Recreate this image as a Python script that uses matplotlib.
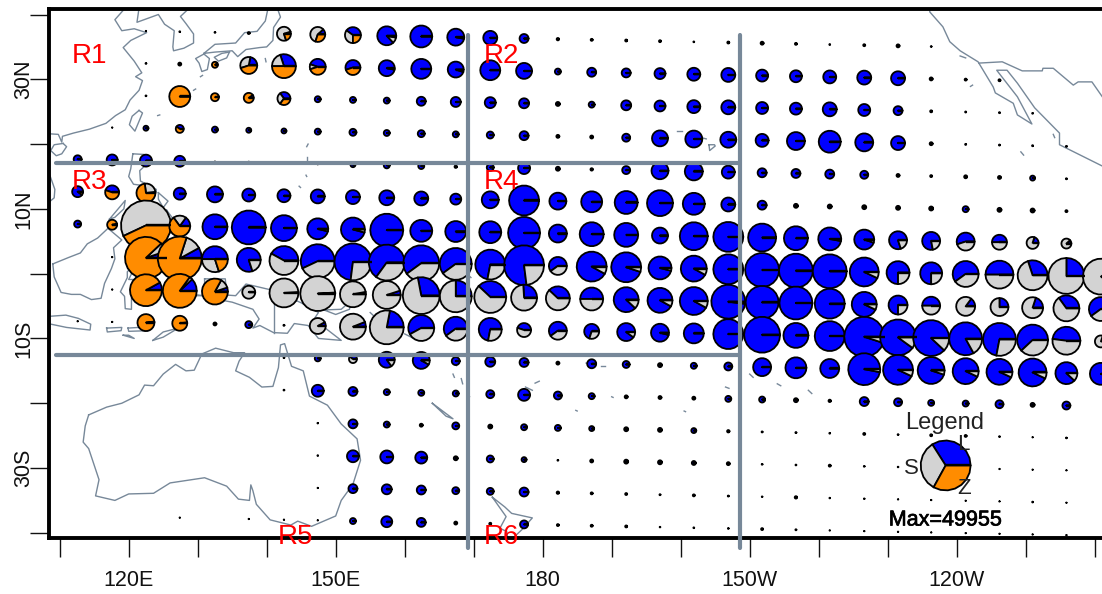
import numpy as np
import matplotlib
matplotlib.use("Agg")
import matplotlib.pyplot as plt
import matplotlib.patheffects as pe

plt.rcParams['font.family'] = ['Liberation Sans', 'DejaVu Sans']

# pie grid
col_lons = [112.6, 117.6, 122.5, 127.4, 132.5, 137.4, 142.5, 147.4, 152.5, 157.4, 162.4,
            167.4, 172.4, 177.3, 182.2, 187.1, 192.1, 197.0, 201.9, 206.9, 211.8, 216.7,
            221.6, 226.6, 231.5, 236.3, 241.3, 246.2, 251.0, 255.9, 260.9]
row_lats = [37.5, 32.5, 27.5, 22.5, 17.5, 12.5, 7.5, 2.5, -2.5, -7.5, -12.5, -17.5, -22.5, -27.5, -32.5, -37.5]
row_tilt = 0.021  # rows sink slowly to the east on the original

# pie radius in pixels, one list per row, from col 0
radii_r0 = [0, 0, .5, .7, .7, 1, 7, 7.5, 8, 9.5, 11, 8.5, 7, 4.5, 1.2, 1, 1, 1, .7, 1, 1.5, 1, .7, 1, 1.5, .7]
radii_r1 = [0, 0, .7, 1.5, 3, 8.5, 12, 8, 7.5, 8, 10, 8, 10, 8, 3, 4.5, 4.5, 5.5, 6.5, 7, 6, 6, 6.5, 7, 7, 1.5, 1, 1]
radii_r2 = [0, 0, .7, 10.5, 4, 5, 6.5, 3, 3, 3, 4.5, 5, 5.5, 5, 2, 3, 5, 5.5, 6.5, 7, 6, 6, 7, 6, 4.5, 1, .8, .8, .7]
radii_r3 = [0, .5, 2.5, 4, 3, 2.5, 2.5, 3, 3.5, 3, 3.5, 3, 3.5, 4.5, 1.5, 1.5, 4, 8, 8.5, 8, 6.5, 9, 11, 9, 7, 1.5, .8, .8, .8, .8]
radii_r4 = [4, 5.5, 6, 5.5, .8, 1, .8, .7, 2.5, 3, 3, 1.2, 3.5, 6, 2, 1.2, 4, 8.5, 9, 6.5, 4.5, 4.5, 4.5, 4, 1.5, 1, 1.5, 1.5, 2.5, .8]
radii_r5 = [5.5, 7, 9.5, 6, 8, 6.5, 6.5, 7, 7, 7.5, 7, 5.5, 8.5, 15, 8.5, 10.5, 11.5, 13, 11, 7, 4.5, 2, 2, 2, 2, 2, 3, 2, 2, 1]
radii_r6 = [3.5, 5, 25, 10.5, 12.5, 17, 13, 10.5, 12, 16.5, 11, 10.5, 11, 16, 9, 12, 12, 8, 14, 15, 14, 12, 11.5, 10, 9, 9, 9, 7.5, 6, 5]
radii_r7 = [0, .5, 21, 22, 13, 12, 14.5, 17, 18.5, 18, 18, 16, 15, 20, 9, 15, 15, 11.5, 13, 15, 17, 17, 17, 14.5, 11.5, 11, 13, 14, 15, 18, 18]
radii_r8 = [0, .5, 16, 17, 13, 6.5, 14.5, 17.5, 13, 14, 18.5, 16, 16, 13, 12, 11.5, 12.5, 12.5, 14, 17, 16.5, 16.5, 15, 12.5, 9.5, 9, 9.5, 9, 10.5, 13, 12]
radii_r9 = [.5, .5, 8.5, 7.5, 1.5, 3.5, .8, 8, 13, 17, 13, 12, 11.5, 7, 9, 7.5, 9, 9, 10, 15, 18, 12.5, 15, 20, 18, 18, 16.5, 16.5, 15.5, 14, 6]
radii_r10 = [0, 0, 0, 0, 0, 0, .7, 3, 4, 8, 8.5, 4, 5, 4.5, 1.5, 4.5, 3.5, 2, 3, 4, 9, 10.5, 9.5, 16, 15, 13.5, 13, 13, 14, 11, 11]
radii_r11 = [0, 0, 0, 0, 0, 0, .7, 6, 4.5, 3, 3, 3, 4, 6, 4, 3, 1.5, 1.5, 1.5, 3, 3, 2, 1.2, 4.5, 4, 3, 3, 4, 2, 4]
radii_r12 = [0, 0, 0, 0, 0, 0, 0, .6, 4.5, 3, 1.5, 3.5, 2, 3, 3, 2.5, 2, 2, 2.5, 1.2, .8, .8, .7, 1, .7, 1, 1, .7, .5, .7]
radii_r13 = [0, 0, 0, 0, 0, 0, 0, .6, 6, 6.5, 6, 2, 3.5, 2.5, .7, 1.5, 2, 2, 2, 1.5, .7, .7, 1, .7, .6, .5, .5, .5, .5, .5]
radii_r14 = [0, 0, 0, 0, 0, 0, 0, .5, 4.5, 5, 4.5, 3.5, 3.5, 4.5, 1.2, 1, 1, .8, 1, .8, .6, 1.2, .6, .6, .5, .5, .5, .5, .7, .5]
radii_r15 = [0, 0, 0, .5, 0, .5, .5, .5, 3, 5.5, 4.5, 1.5, 1, 4, 1, 1, 1, .6, .7, .7, 1, .8, .5, .5, .5, .5, .5, .5, .5, .5]
radii = [radii_r0, radii_r1, radii_r2, radii_r3, radii_r4, radii_r5, radii_r6, radii_r7,
         radii_r8, radii_r9, radii_r10, radii_r11, radii_r12, radii_r13, radii_r14, radii_r15]

# (row, col): L, S, Z shares. Anything not listed is all L
shares = {
    (0, 6): (.05, .75, .2), (0, 7): (.12, .58, .3), (0, 8): (.4, .35, .25), (0, 9): (.87, .1, .03), (0, 11): (.97, 0, .03),
    (1, 4): (.1, 0, .9), (1, 5): (.22, .33, .45), (1, 6): (.3, .2, .5), (1, 7): (.45, .1, .45), (1, 8): (.55, 0, .45),
    (1, 9): (.97, 0, .03), (1, 11): (.95, 0, .05),
    (2, 3): (0, 0, 1), (2, 4): (.03, 0, .97), (2, 5): (.1, 0, .9), (2, 6): (.35, .3, .35), (3, 3): (.4, 0, .6),
    (5, 0): (.9, 0, .1), (5, 1): (.45, 0, .55), (5, 2): (.02, .25, .73),
    (6, 1): (.03, 0, .97), (6, 2): (0, .57, .43), (6, 3): (.15, .2, .65), (6, 7): (.96, .04, 0), (6, 8): (.96, .04, 0),
    (6, 22): (.97, .03, 0), (6, 23): (.95, .05, 0), (6, 24): (.8, .2, 0), (6, 25): (.78, .22, 0), (6, 26): (.55, .45, 0),
    (6, 27): (.5, .5, 0), (6, 28): (.2, .8, 0), (6, 29): (.12, .88, 0),
    (7, 2): (.05, .07, .88), (7, 3): (.08, .12, .8), (7, 4): (.5, .3, .2), (7, 5): (.8, .2, 0), (7, 6): (.42, .58, 0),
    (7, 7): (.57, .43, 0), (7, 8): (.73, .27, 0), (7, 9): (.65, .35, 0), (7, 10): (.6, .4, 0), (7, 11): (.6, .4, 0),
    (7, 12): (.72, .28, 0), (7, 13): (.77, .23, 0), (7, 14): (.6, .4, 0), (7, 15): (.92, .08, 0), (7, 16): (.95, .05, 0),
    (7, 17): (.96, .04, 0), (7, 18): (.92, .08, 0), (7, 23): (.93, .07, 0), (7, 24): (.75, .25, 0), (7, 25): (.75, .25, 0),
    (7, 26): (.6, .4, 0), (7, 27): (.5, .5, 0), (7, 28): (.3, .7, 0), (7, 29): (.25, .75, 0), (7, 30): (.1, .9, 0),
    (8, 2): (.08, 0, .92), (8, 3): (.12, .03, .85), (8, 4): (.05, .12, .83), (8, 5): (0, 1, 0), (8, 6): (.01, .99, 0),
    (8, 7): (.01, .99, 0), (8, 8): (.03, .97, 0), (8, 9): (.05, .95, 0), (8, 10): (.28, .72, 0), (8, 11): (.25, .75, 0),
    (8, 12): (.38, .62, 0), (8, 13): (.26, .74, 0), (8, 14): (.38, .62, 0), (8, 15): (.5, .5, 0), (8, 16): (.88, .12, 0),
    (8, 17): (.92, .08, 0), (8, 18): (.92, .08, 0), (8, 19): (.98, .02, 0), (8, 23): (.93, .07, 0), (8, 24): (.75, .25, 0),
    (8, 25): (.5, .5, 0), (8, 26): (.15, .85, 0), (8, 27): (.25, .75, 0), (8, 28): (.2, .8, 0), (8, 29): (.35, .65, 0),
    (8, 30): (.6, .4, 0),
    (9, 2): (.02, 0, .98), (9, 3): (.02, 0, .98), (9, 7): (.08, .92, 0), (9, 8): (.06, .94, 0), (9, 9): (.22, .78, 0),
    (9, 10): (.58, .42, 0), (9, 11): (.6, .4, 0), (9, 12): (.72, .28, 0), (9, 13): (.45, .55, 0), (9, 14): (.6, .4, 0),
    (9, 15): (.7, .3, 0), (9, 16): (.9, .1, 0), (9, 17): (.96, .04, 0), (9, 23): (.95, .05, 0), (9, 24): (.9, .1, 0),
    (9, 25): (.88, .12, 0), (9, 26): (.83, .17, 0), (9, 27): (.72, .28, 0), (9, 28): (.62, .38, 0), (9, 29): (.48, .52, 0),
    (9, 30): (.2, .8, 0),
    (10, 8): (.4, .6, 0), (10, 9): (.85, .15, 0), (10, 10): (.92, .08, 0), (10, 23): (.97, .03, 0), (10, 24): (.93, .07, 0),
    (10, 25): (.95, .05, 0), (10, 26): (.93, .07, 0), (10, 27): (.93, .07, 0), (10, 28): (.93, .07, 0), (10, 29): (.88, .12, 0),
}
legend_shares = (.34, .33, .33)

# coast outlines, lon/lat
china = [(119.5, 41), (118, 39.2), (119, 37.5), (120.8, 37.8), (122.6, 37.2), (120.3, 36), (119.2, 34.9), (120.8, 32.8),
         (121.9, 31), (121, 30.4), (122, 29.8), (121.5, 28.3), (120.2, 26.8), (119.5, 25.3), (118.1, 24.4), (116.7, 23.2),
         (114.3, 22.3), (112, 21.7), (110.4, 21.2), (110.3, 20.3), (109.8, 21.5), (108.3, 21.6)]
liaodong = [(121.5, 41), (121.2, 38.8), (124.3, 40), (125.2, 38.5), (126.6, 37.5), (126.4, 35), (126.5, 34.4), (128, 34.8),
            (129.4, 35.6), (129.4, 37), (128.3, 38.6), (127.5, 39.7), (128.8, 41)]
honshu = [(130.9, 34), (132.5, 35.4), (135.5, 35.6), (136.8, 37.2), (138.6, 37.4), (139.8, 39), (140.2, 41), (141.4, 41.4),
          (142, 39.6), (141, 38), (140.9, 36), (140, 35), (139, 34.9), (137, 34.6), (135.8, 33.5), (135, 34.4),
          (132.5, 34.2), (130.9, 34)]
kyushu = [(130.9, 33.9), (131.7, 33.2), (131.4, 31.5), (130.6, 31.2), (130.2, 32.5), (129.7, 33.2), (130.9, 33.9)]
shikoku = [(134.6, 34.2), (134.2, 33.3), (133, 32.8), (132.4, 33.4), (133.5, 34), (134.6, 34.2)]
taiwan = [(121.5, 25.2), (122, 24.8), (120.9, 22), (120.1, 23), (120.5, 24.3), (121.5, 25.2)]
hainan = [(110.5, 20.1), (111, 19.6), (110.3, 18.5), (109.5, 18.2), (108.7, 19), (109.2, 19.9), (110.5, 20.1)]
vietnam = [(108.3, 16), (109.3, 13), (109.2, 11.7), (108.3, 10.9)]
luzon = [(120.6, 18.5), (122.2, 18.4), (122.2, 16.5), (121.6, 15.9), (121.7, 14.3), (124, 13), (124, 12.6), (122.8, 13.5),
         (120.7, 13.8), (120, 15), (120.3, 16.2), (120.6, 18.5)]
mindanao = [(125.5, 9.8), (126.4, 8.5), (126.2, 6.5), (125.4, 5.7), (124.2, 6.5), (123.5, 7.7), (122, 7), (122.3, 8),
            (123.5, 8.7), (124.7, 8.8), (125.5, 9.8)]
samar = [(124.3, 12.5), (125.7, 11.2), (125, 10.2), (124.3, 11.5), (124.3, 12.5)]
panay = [(122, 11.8), (123.1, 11.5), (123.2, 9.5), (122.4, 9.9), (122, 11.8)]
palawan = [(117.2, 8.4), (119.5, 11.3), (119.3, 10), (118, 8.7), (117.2, 8.4)]
borneo = [(109, 1.5), (111.3, 2.5), (113, 3.2), (114, 4.6), (115.5, 5.5), (117, 7), (119, 5.2), (117.8, 4), (118, 2.3),
          (117.5, .8), (116.5, -1.5), (116, -3.8), (114.6, -4), (113, -3.2), (111.7, -3.2), (110.2, -2.9), (109.2, -.5), (109, 1.5)]
sulawesi = [(120.8, 1.3), (125, 1.6), (124, .5), (120.6, .4), (120, -.9), (121.5, -.9), (123.3, -.9), (121.7, -1.9),
            (122.9, -4.4), (122, -4.8), (121.5, -4), (120.9, -2.7), (120.4, -3), (120.4, -5.5), (119.5, -5.4), (119.4, -3.5),
            (118.8, -2.8), (119.8, -.6), (119.8, .3), (120.8, 1.3)]
java = [(108.3, -6.6), (110.9, -6.4), (112.7, -6.9), (114.5, -7.8), (114.4, -8.7), (111, -8.3), (108.3, -7.7)]
sumbawa = [(116.8, -8.4), (119, -8.3), (118.9, -8.8), (116.9, -9), (116.8, -8.4)]
flores = [(119.9, -8.4), (123, -8.2), (122.8, -8.8), (120, -8.9), (119.9, -8.4)]
timor = [(123.5, -10.3), (125, -9), (127.2, -8.4), (125, -9.8), (123.5, -10.3)]
sumba = [(119.2, -9.5), (120.8, -10), (120, -9.5), (119.2, -9.5)]
halmahera = [(127.5, 2), (128.7, 1), (128, -.8), (127.6, .8), (127.5, 2)]
seram = [(128, -3), (130.8, -3.4), (129.5, -3.4), (128, -3)]
new_guinea = [(131, -.8), (134, -.8), (134.2, -3.3), (135.5, -3.4), (137, -1.6), (141, -2.6), (145, -4.5), (147.5, -6),
              (147, -6.8), (148, -8), (150.8, -10.3), (147.5, -10), (146, -8), (144, -7.7), (143, -9.2), (141, -9.1),
              (139, -8), (138, -8.4), (138.9, -7), (138, -5.5), (135, -4.4), (133, -4), (132.8, -2.9), (131, -1.5), (131, -.8)]
png_border = [(141, -2.6), (141, -9.1)]
new_britain = [(148.3, -5.6), (150.8, -5.5), (152.2, -4.2), (152, -5.5), (150, -6.3), (148.3, -5.6)]
new_ireland = [(150.8, -2.7), (153, -4.5), (152.7, -4), (151, -2.6), (150.8, -2.7)]
australia = [(114.2, -21.8), (116.8, -20.6), (119, -20), (121.5, -18.7), (122.3, -17.2), (123.6, -17.3), (125, -15.5),
             (126.8, -14), (128.3, -15), (129.5, -14.9), (130.6, -12.4), (132.6, -11.5), (135.2, -12.2), (136.8, -12.2),
             (136, -13.5), (135.5, -15), (137.5, -16), (139.3, -17.5), (140.9, -17.4), (141.7, -14.5), (142, -11),
             (142.6, -10.8), (143.6, -14.3), (145.3, -15), (146.2, -18.9), (148.8, -20.3), (150.8, -23.2), (153.1, -25.5),
             (153.6, -28.8), (152.5, -32.5), (150.8, -35), (150, -37.4), (146.5, -39), (144.5, -38.2), (143.5, -38.8),
             (140.5, -38), (138.5, -35.6), (138, -33.5), (137.7, -32.6), (137.5, -35), (135.9, -34.8), (134.2, -32.8),
             (131, -31.5), (126, -32.3), (123.6, -33.9), (120, -34), (118, -35), (115.2, -34.3), (115.7, -31.8),
             (114.2, -27), (113.4, -26), (113.7, -23.5), (114.2, -21.8)]
tasmania = [(145, -41), (148, -41), (147.5, -42)]
new_caledonia = [(164, -20), (167, -22.4), (166, -22), (164, -20)]
nz_north = [(172.7, -34.5), (174.5, -36), (175.5, -37), (178.5, -37.7), (177, -39.5), (175, -41.5), (174.8, -39.8),
            (173.8, -39.3), (174.7, -37.5), (172.7, -34.5)]
california = [(236.1, 41), (236.1, 40.4), (238, 38.1), (239, 35.8), (240.5, 34.4), (243.1, 32.7), (245.3, 28.8), (245.6, 27.9),
              (248.2, 26.3), (248.8, 24.5), (250.9, 23.1), (248.8, 27.3), (245.8, 31.4), (247.3, 31.4), (248.8, 29.4),
              (251.3, 25.6), (254.9, 21.7), (254.9, 19.9), (261.5, 16.4)]
us_border = [(243.2, 32.5), (246.6, 32.7), (249.5, 31.3), (252.4, 31.3), (252.5, 31.7), (254, 31.7), (256.9, 29.1),
             (257.6, 29.6), (259.6, 29.6), (261.5, 26.7)]
hawaii = [(204.1, 19.9), (204.9, 19.9), (205, 19.7), (204.2, 19), (204.1, 19.9)]
islets = [[(199.5, 22), (200.2, 22)], [(201.5, 21.5), (202.3, 21.4)], [(203, 21), (203.7, 20.8)],
          [(139.8, 33.2), (139.9, 32.7)], [(142.1, 27.2), (142.2, 26.8)], [(127.7, 26.5), (128.2, 26.9)],
          [(129.4, 28.3), (129.7, 28.5)], [(130.4, 30.4), (130.7, 30.6)], [(124.2, 24.4), (124.5, 24.5)],
          [(145.7, 15.2), (145.8, 15)], [(144.7, 13.5), (144.9, 13.3)], [(145.9, 17.5), (145.9, 18)], [(146, 20), (145.8, 19.6)],
          [(155, -6), (156, -7)], [(157, -8), (159, -8.5)], [(160, -9.3), (161.3, -10)], [(161, -8.5), (161.5, -9.6)],
          [(167, -15.5), (167.2, -16)], [(168.2, -16.2), (168.4, -17)], [(169.2, -19.5), (169.4, -19)], [(177.5, -17.5), (178.5, -18)],
          [(179.5, -16.6), (178.9, -16.9)], [(167.4, -13.9), (167.5, -14.2)], [(172.9, 1.4), (173, 1.2)], [(171.1, 7.1), (171.4, 7)],
          [(186.3, -13.8), (187, -14)], [(188.5, -14.3), (189, -14.3)], [(184.8, -21.1), (185, -21.2)], [(206.5, -17.5), (207, -17.7)],
          [(210, -15.5), (210.5, -16)], [(214, -17), (214.5, -17.3)], [(218.5, -18), (219, -18.5)], [(219.5, -9), (220, -9.5)],
          [(231, -10), (231.3, -10.5)], [(200.5, -21.2), (200.7, -21.3)], [(190, -19), (190.2, -19.1)], [(169.5, -0.5), (169.6, -0.6)],
          [(254, 21.5), (254.2, 21)], [(249.3, 18.8), (249.7, 18.3)], [(242, 28.9), (242.3, 29.1)], [(240.5, 33.6), (241.3, 33.3)]]
coasts = [china, liaodong, honshu, kyushu, shikoku, taiwan, hainan, vietnam, luzon, mindanao, samar, panay, palawan, borneo,
          sulawesi, java, sumbawa, flores, timor, sumba, halmahera, seram, new_guinea, png_border, new_britain, new_ireland,
          australia, tasmania, new_caledonia, nz_north, california, us_border, hawaii] + islets

# region boxes
box_lons = [169.2, 208.6]
box_lats = [17.1, -12.55]
box_west = 109.5
box_north = 36.8
box_south = -42.3

x_ticks = list(range(110, 261, 10))
x_labels = {120: "120E", 150: "150E", 180: "180", 210: "150W", 240: "120W"}
y_ticks = list(range(-40, 41, 10))
y_labels = {30: "30N", 10: "10N", -10: "10S", -30: "30S"}

COAST = "#778899"
BOX = "#778899"
L_COL = "#0000ff"
S_COL = "#d3d3d3"
Z_COL = "#ff8c00"

W, H = 1102, 594
fig = plt.figure(figsize=(W / 100, H / 100), dpi=100)
ax = fig.add_axes([49 / W, 1 - 538 / H, (W - 49) / W, (538 - 9) / H])
ax.set_xlim(108.45, 261.06)
ax.set_ylim(-40.8, 40.85)
px_lon = (W - 49) / (261.06 - 108.45)
px_lat = (538 - 9) / (40.85 + 40.8)


def draw_pie(lon, lat, r, parts, z=3):
    start = 0.0
    edge = 0.9 if r < 1 else 1.3
    for share, col in zip(parts, (L_COL, S_COL, Z_COL)):
        if share <= 0:
            continue
        n = max(2, int(round(share * 22)) + 1)
        t = np.linspace(start, start + share * 2 * np.pi, n)
        xs = np.concatenate(([lon], lon + r * np.cos(t) / px_lon))
        ys = np.concatenate(([lat], lat + r * np.sin(t) / px_lat))
        ax.fill(xs, ys, facecolor=col, edgecolor="black", lw=edge, joinstyle="round", zorder=z)
        start += share * 2 * np.pi
    # spoke at east, it shows even on whole pies
    if r >= 2.5:
        ax.plot([lon, lon + (r + 0.5) / px_lon], [lat, lat], color="black", lw=1.7,
                solid_capstyle="butt", zorder=z + 0.1)


for pts in coasts:
    ax.plot([p[0] for p in pts], [p[1] for p in pts], color=COAST, lw=1.0, zorder=1)

for i, row in enumerate(radii):
    for k, r in enumerate(row):
        if r > 0:
            lat = row_lats[i] - row_tilt * (col_lons[k] - 120)
            draw_pie(col_lons[k], lat, r, shares.get((i, k), (1, 0, 0)))

for lat in box_lats:
    ax.plot([box_west, box_lons[1]], [lat, lat], color=BOX, lw=3, solid_capstyle="round", zorder=5)
for lon in box_lons:
    ax.plot([lon, lon], [box_south, box_north], color=BOX, lw=3, solid_capstyle="round", zorder=5, clip_on=False)

# legend pie
draw_pie(238.4, -29.6, 25, legend_shares, z=6)

for side in ("top", "left", "bottom"):
    ax.spines[side].set_linewidth(2.8)
ax.spines["right"].set_visible(False)
ax.set_xticks(x_ticks)
ax.set_xticklabels([x_labels.get(t, "") for t in x_ticks], fontsize=15.5)
ax.set_yticks(y_ticks)
ax.set_yticklabels([y_labels.get(t, "") for t in y_ticks], fontsize=15.5, rotation=90, va="center")
ax.tick_params(axis="x", length=13.5, width=1.0, pad=9.5, colors="#111111")
ax.tick_params(axis="y", length=13.5, width=1.0, pad=-3, colors="#111111")


def label(x, y, s, **kw):
    fig.text(x / W, 1 - y / H, s, ha="center", va="center", zorder=10, **kw)


region_names = ["R1", "R2", "R3", "R4", "R5", "R6"]
region_x = [89, 501, 90, 501, 296, 501]
region_y = [56, 56, 182, 182, 537, 537]
for s, x, y in zip(region_names, region_x, region_y):
    label(x, y, s, color="red", fontsize=20)

label(945, 423, "Legend", color="#222222", fontsize=17)
label(963, 445, "L", color="#222222", fontsize=16)
label(911, 468, "S", color="#222222", fontsize=16)
label(964, 489, "Z", color="#222222", fontsize=16)
label(945, 520, "Max=49955", color="black", fontsize=15.5,
      path_effects=[pe.withStroke(linewidth=0.5, foreground="black")])

fig.savefig("out.png", dpi=100)
